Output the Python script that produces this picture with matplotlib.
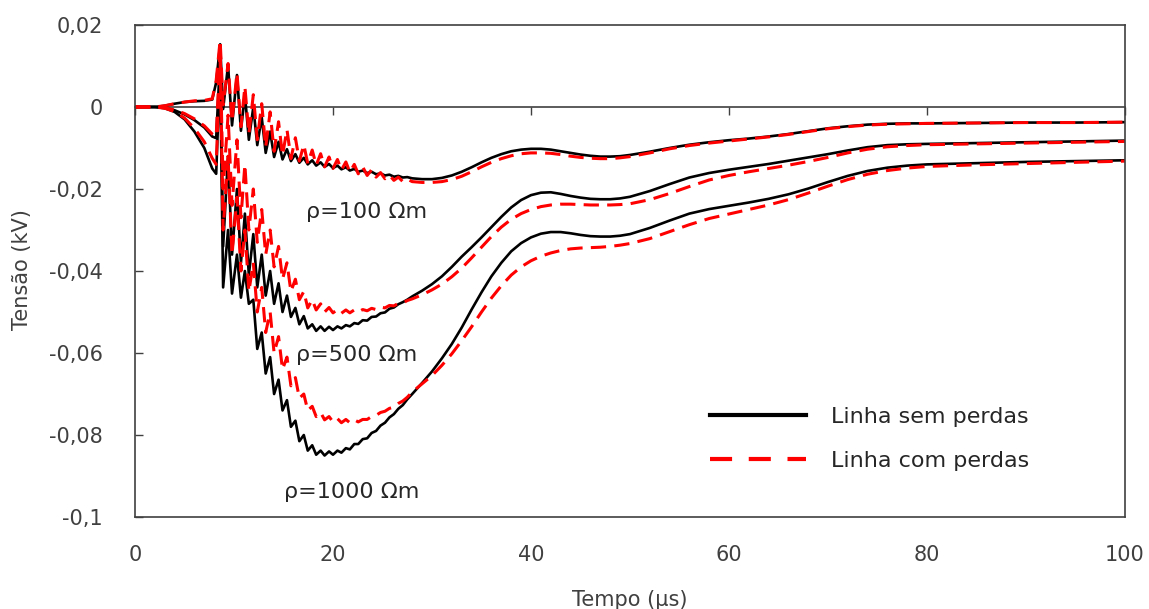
import matplotlib.pyplot as plt
from matplotlib.lines import Line2D

plt.rcParams['font.family'] = ['DejaVu Sans']

# tempo em microssegundos (eixo comum das seis curvas)
tempo = [0, 2, 3, 4, 5, 6, 7, 7.8, 8.2, 8.6,
         8.9, 9.4, 9.8, 10.3, 10.7, 11.1, 11.5, 11.95, 12.35, 12.8,
         13.2, 13.65, 14.05, 14.5, 14.9, 15.35, 15.75, 16.2, 16.6, 17.05,
         17.45, 17.9, 18.3, 18.75, 19.15, 19.6, 20, 20.45, 20.85, 21.3,
         21.7, 22.15, 22.55, 23, 23.45, 23.9, 24.35, 24.8, 25.25, 25.7,
         26.15, 26.6, 27.05, 27.5, 28, 29, 30, 31, 32, 33,
         34, 35, 36, 37, 38, 39, 40, 41, 42, 43,
         44, 45, 46, 47, 48, 49, 50, 52, 54, 56,
         58, 60, 62, 64, 66, 68, 70, 72, 74, 76,
         78, 80, 85, 90, 95, 100]

# linha sem perdas (kV)
sem_100 = [0, 0, 0.0003, 0.0008, 0.0012, 0.0014, 0.0015, 0.0018, 0.0060, 0.0153,
           -0.0005, 0.0102, -0.0045, 0.0078, -0.0058, 0.0030, -0.0080, 0.0000, -0.0093, -0.0025,
           -0.0112, -0.0060, -0.0122, -0.0085, -0.0128, -0.0103, -0.0132, -0.0115, -0.0136, -0.0124,
           -0.0140, -0.0130, -0.0143, -0.0135, -0.0146, -0.0139, -0.0149, -0.0143, -0.0152, -0.0147,
           -0.0155, -0.0151, -0.0158, -0.0155, -0.0161, -0.0158, -0.0164, -0.0162, -0.0167, -0.0165,
           -0.0170, -0.0168, -0.0172, -0.0171, -0.0174, -0.0176, -0.0176, -0.0173, -0.0167, -0.0158,
           -0.0147, -0.0135, -0.0124, -0.0115, -0.0108, -0.0104, -0.0102, -0.0102, -0.0104, -0.0108,
           -0.0112, -0.0116, -0.0119, -0.0121, -0.0121, -0.0120, -0.0117, -0.0109, -0.0100, -0.0092,
           -0.0086, -0.0081, -0.0077, -0.0072, -0.0066, -0.0059, -0.0052, -0.0047, -0.0043, -0.0041,
           -0.0040, -0.0040, -0.0039, -0.0038, -0.0038, -0.0037]

sem_500 = [0, 0, -0.0002, -0.0008, -0.0018, -0.0032, -0.0050, -0.0072, -0.0076, 0.0120,
           -0.0340, -0.0120, -0.0360, -0.0200, -0.0380, -0.0260, -0.0410, -0.0310, -0.0440, -0.0360,
           -0.0460, -0.0400, -0.0480, -0.0430, -0.0500, -0.0460, -0.0512, -0.0490, -0.0530, -0.0510,
           -0.0540, -0.0530, -0.0546, -0.0535, -0.0546, -0.0536, -0.0544, -0.0535, -0.0540, -0.0532,
           -0.0535, -0.0527, -0.0529, -0.0520, -0.0521, -0.0512, -0.0511, -0.0503, -0.0501, -0.0492,
           -0.0489, -0.0481, -0.0476, -0.0470, -0.0462, -0.0448, -0.0432, -0.0413, -0.0390, -0.0365,
           -0.0342, -0.0318, -0.0293, -0.0268, -0.0245, -0.0227, -0.0215, -0.0209, -0.0208, -0.0212,
           -0.0217, -0.0221, -0.0224, -0.0225, -0.0225, -0.0223, -0.0219, -0.0205, -0.0188, -0.0172,
           -0.0161, -0.0153, -0.0146, -0.0139, -0.0131, -0.0123, -0.0115, -0.0106, -0.0098, -0.0093,
           -0.0091, -0.0090, -0.0088, -0.0086, -0.0084, -0.0082]

sem_1000 = [0, 0, -0.0003, -0.0012, -0.0030, -0.0060, -0.0100, -0.0150, -0.0163, 0.0100,
            -0.0440, -0.0300, -0.0455, -0.0360, -0.0465, -0.0400, -0.0480, -0.0470, -0.0590, -0.0550,
            -0.0650, -0.0610, -0.0700, -0.0665, -0.0740, -0.0715, -0.0780, -0.0765, -0.0815, -0.0800,
            -0.0838, -0.0825, -0.0848, -0.0838, -0.0850, -0.0840, -0.0848, -0.0838, -0.0843, -0.0832,
            -0.0835, -0.0822, -0.0822, -0.0810, -0.0808, -0.0795, -0.0790, -0.0777, -0.0770, -0.0757,
            -0.0749, -0.0736, -0.0727, -0.0713, -0.0700, -0.0673, -0.0645, -0.0613, -0.0578, -0.0538,
            -0.0494, -0.0452, -0.0413, -0.0380, -0.0352, -0.0332, -0.0318, -0.0309, -0.0305, -0.0305,
            -0.0308, -0.0312, -0.0315, -0.0316, -0.0316, -0.0314, -0.0310, -0.0295, -0.0277, -0.0260,
            -0.0249, -0.0241, -0.0233, -0.0224, -0.0213, -0.0199, -0.0183, -0.0168, -0.0156, -0.0148,
            -0.0143, -0.0140, -0.0137, -0.0134, -0.0132, -0.0130]

# linha com perdas (kV)
com_100 = [0, 0, 0.0003, 0.0008, 0.0012, 0.0015, 0.0016, 0.0020, 0.0065, 0.0163,
           0.0005, 0.0106, -0.0035, 0.0083, -0.0048, 0.0050, -0.0066, 0.0030, -0.0080, 0.0008,
           -0.0098, -0.0012, -0.0108, -0.0036, -0.0118, -0.0055, -0.0126, -0.0075, -0.0132, -0.0092,
           -0.0138, -0.0105, -0.0142, -0.0114, -0.0146, -0.0122, -0.0150, -0.0128, -0.0154, -0.0134,
           -0.0159, -0.0140, -0.0163, -0.0146, -0.0167, -0.0153, -0.0171, -0.0160, -0.0175, -0.0166,
           -0.0179, -0.0171, -0.0182, -0.0176, -0.0182, -0.0184, -0.0184, -0.0182, -0.0177, -0.0169,
           -0.0158, -0.0146, -0.0135, -0.0126, -0.0119, -0.0114, -0.0112, -0.0112, -0.0113, -0.0116,
           -0.0120, -0.0123, -0.0125, -0.0126, -0.0126, -0.0124, -0.0121, -0.0112, -0.0102, -0.0094,
           -0.0088, -0.0083, -0.0078, -0.0073, -0.0067, -0.0060, -0.0053, -0.0048, -0.0044, -0.0042,
           -0.0041, -0.0040, -0.0039, -0.0038, -0.0038, -0.0037]

com_500 = [0, 0, -0.0002, -0.0007, -0.0016, -0.0029, -0.0046, -0.0066, -0.0072, 0.0140,
           -0.0200, -0.0020, -0.0240, -0.0080, -0.0270, -0.0140, -0.0300, -0.0200, -0.0330, -0.0250,
           -0.0360, -0.0300, -0.0390, -0.0340, -0.0420, -0.0380, -0.0450, -0.0420, -0.0470, -0.0450,
           -0.0490, -0.0470, -0.0495, -0.0480, -0.0500, -0.0489, -0.0502, -0.0494, -0.0503, -0.0495,
           -0.0502, -0.0495, -0.0500, -0.0494, -0.0497, -0.0491, -0.0494, -0.0488, -0.0490, -0.0484,
           -0.0485, -0.0479, -0.0478, -0.0472, -0.0468, -0.0458, -0.0446, -0.0432, -0.0414, -0.0393,
           -0.0368, -0.0342, -0.0316, -0.0293, -0.0274, -0.0260, -0.0250, -0.0243, -0.0239, -0.0237,
           -0.0237, -0.0238, -0.0239, -0.0239, -0.0239, -0.0238, -0.0236, -0.0226, -0.0211, -0.0194,
           -0.0178, -0.0167, -0.0158, -0.0150, -0.0142, -0.0133, -0.0123, -0.0112, -0.0103, -0.0097,
           -0.0094, -0.0092, -0.0090, -0.0088, -0.0086, -0.0084]

com_1000 = [0, 0, -0.0003, -0.0011, -0.0027, -0.0052, -0.0085, -0.0125, -0.0140, 0.0120,
            -0.0300, -0.0120, -0.0360, -0.0220, -0.0400, -0.0300, -0.0450, -0.0380, -0.0500, -0.0440,
            -0.0550, -0.0500, -0.0600, -0.0560, -0.0640, -0.0610, -0.0680, -0.0660, -0.0710, -0.0700,
            -0.0740, -0.0730, -0.0755, -0.0745, -0.0763, -0.0755, -0.0768, -0.0760, -0.0770, -0.0762,
            -0.0770, -0.0763, -0.0768, -0.0762, -0.0762, -0.0755, -0.0752, -0.0745, -0.0742, -0.0735,
            -0.0732, -0.0723, -0.0717, -0.0708, -0.0695, -0.0675, -0.0655, -0.0630, -0.0602, -0.0570,
            -0.0536, -0.0500, -0.0466, -0.0436, -0.0410, -0.0390, -0.0375, -0.0364, -0.0356, -0.0350,
            -0.0346, -0.0344, -0.0343, -0.0342, -0.0340, -0.0337, -0.0333, -0.0321, -0.0304, -0.0287,
            -0.0272, -0.0261, -0.0250, -0.0239, -0.0226, -0.0210, -0.0193, -0.0177, -0.0164, -0.0155,
            -0.0149, -0.0145, -0.0141, -0.0138, -0.0135, -0.0132]

x_ticks = [0, 20, 40, 60, 80, 100]
y_ticks = [-0.1, -0.08, -0.06, -0.04, -0.02, 0, 0.02]
y_tick_labels = ['-0,1', '-0,08', '-0,06', '-0,04', '-0,02', '0', '0,02']
rotulos = ['ρ=100 Ωm', 'ρ=500 Ωm', 'ρ=1000 Ωm']
rotulo_pos = [(23.4, -0.0256), (22.4, -0.0605), (21.9, -0.0940)]

cinza = '#404040'
fs = 15

fig = plt.figure(figsize=(11.49, 6.09), dpi=100)
ax = fig.add_axes([0.1175, 0.151, 0.8616, 0.808])

for v in (sem_100, sem_500, sem_1000):
    ax.plot(tempo, v, color='black', lw=1.9)
for v in (com_100, com_500, com_1000):
    ax.plot(tempo, v, color='red', lw=2.2, dashes=(5, 2.7))

ax.set_xlim(0, 100)
ax.set_ylim(-0.1, 0.02)
ax.set_xticks(x_ticks)
ax.set_xticklabels([str(x) for x in x_ticks])
ax.tick_params(axis='x', length=0, pad=20, labelsize=fs, labelcolor=cinza)
ax.set_yticks(y_ticks)
ax.set_yticklabels(y_tick_labels)
ax.tick_params(axis='y', direction='in', length=5.5, width=1.0, color=cinza,
               pad=23, labelsize=fs, labelcolor=cinza)
for s in ax.spines.values():
    s.set_color(cinza)
    s.set_linewidth(1.2)

# eixo horizontal cruzando em zero (estilo Excel)
sec = ax.secondary_xaxis(0, transform=ax.transData)
sec.set_xticks(x_ticks)
sec.set_xticklabels([])
sec.tick_params(direction='out', length=5.5, width=1.0, color=cinza)
sec.spines['bottom'].set_color(cinza)
sec.spines['bottom'].set_linewidth(1.2)

for txt, (x, y) in zip(rotulos, rotulo_pos):
    ax.text(x, y, txt, ha='center', va='center', fontsize=16, color='#262626')

handles = [Line2D([], [], color='black', lw=3.0),
           Line2D([], [], color='red', lw=3.0, dashes=(5.3, 4))]
ax.legend(handles, ['Linha sem perdas', 'Linha com perdas'], loc='center left',
          bbox_to_anchor=(0.5808, 0.1585), frameon=False, fontsize=16,
          handlelength=4.3, handletextpad=1.15, labelspacing=1.1,
          borderpad=0, borderaxespad=0, labelcolor='#262626')

fig.text(630 / 1149, 1 - 600 / 609, 'Tempo (µs)', ha='center', va='center',
         fontsize=fs, color=cinza)
fig.text(22 / 1149, 1 - 270 / 609, 'Tensão (kV)', ha='center', va='center',
         rotation=90, fontsize=fs, color=cinza)

fig.savefig('out.png', dpi=100)
